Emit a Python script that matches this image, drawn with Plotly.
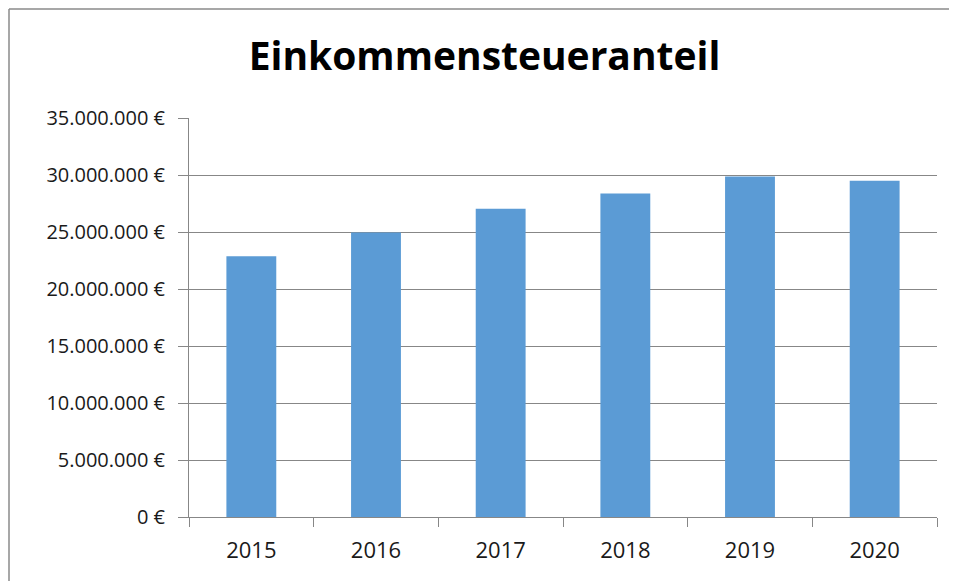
import plotly.graph_objects as go

years = ["2015", "2016", "2017", "2018", "2019", "2020"]
values = [22870000, 24960000, 27050000, 28370000, 29860000, 29500000]
y_ticks = [0, 5000000, 10000000, 15000000, 20000000, 25000000, 30000000, 35000000]
y_tick_labels = ["0 €", "5.000.000 €", "10.000.000 €", "15.000.000 €", "20.000.000 €",
                 "25.000.000 €", "30.000.000 €", "35.000.000 €"]
title_text = "Einkommensteueranteil"

# the page places the figure 8px from the top-left corner; compensate
OFF = 8
W, H = 957 - OFF, 581 - OFF
L, T = 189 - OFF, 118 - OFF
R, B = 20, 64
pw, ph = W - L - R, H - T - B

def px_x(px):
    return (px - OFF - L) / pw

def px_y(py):
    return (H - B - (py - OFF)) / ph

fig = go.Figure(go.Bar(
    x=years, y=values,
    marker=dict(color="#5B9BD5", line=dict(width=0)),
))

grid = "#878787"
fig.update_layout(
    width=W, height=H,
    margin=dict(l=L, r=R, t=T, b=B, autoexpand=False),
    paper_bgcolor="white", plot_bgcolor="white",
    bargap=0.6,
    showlegend=False,
    font=dict(family="Open Sans", color="#1a1a1a"),
    title=dict(
        text="<b>" + title_text + "</b>",
        font=dict(family="Open Sans", size=39, color="black"),
        x=(484.5 - OFF) / W, xanchor="center", xref="container",
        y=1 - (56 - OFF) / H, yanchor="middle", yref="container",
    ),
    xaxis=dict(
        type="category",
        tickson="boundaries",
        ticks="outside", ticklen=9, tickcolor=grid, tickwidth=1,
        showline=True, linecolor=grid, linewidth=1,
        showgrid=False,
        tickfont=dict(size=22, color="#1a1a1a"),
        ticklabelstandoff=14,
    ),
    yaxis=dict(
        range=[0, 35000000],
        tickvals=y_ticks,
        ticktext=y_tick_labels,
        ticks="outside", ticklen=10, tickcolor=grid, tickwidth=1,
        showline=True, linecolor=grid, linewidth=1,
        showgrid=True, gridcolor=grid, gridwidth=1.2,
        zeroline=False,
        tickfont=dict(size=20, color="#1a1a1a"),
        ticklabelstandoff=9,
    ),
    shapes=[
        dict(type="line", xref="paper", yref="paper",
             x0=px_x(9), x1=px_x(957), y0=px_y(9), y1=px_y(9),
             line=dict(color="#8a8a8a", width=1.5)),
        dict(type="line", xref="paper", yref="paper",
             x0=px_x(9), x1=px_x(9), y0=px_y(9), y1=px_y(581),
             line=dict(color="#8a8a8a", width=1.5)),
    ],
)

fig.write_html("out.html", config={"displayModeBar": False})
